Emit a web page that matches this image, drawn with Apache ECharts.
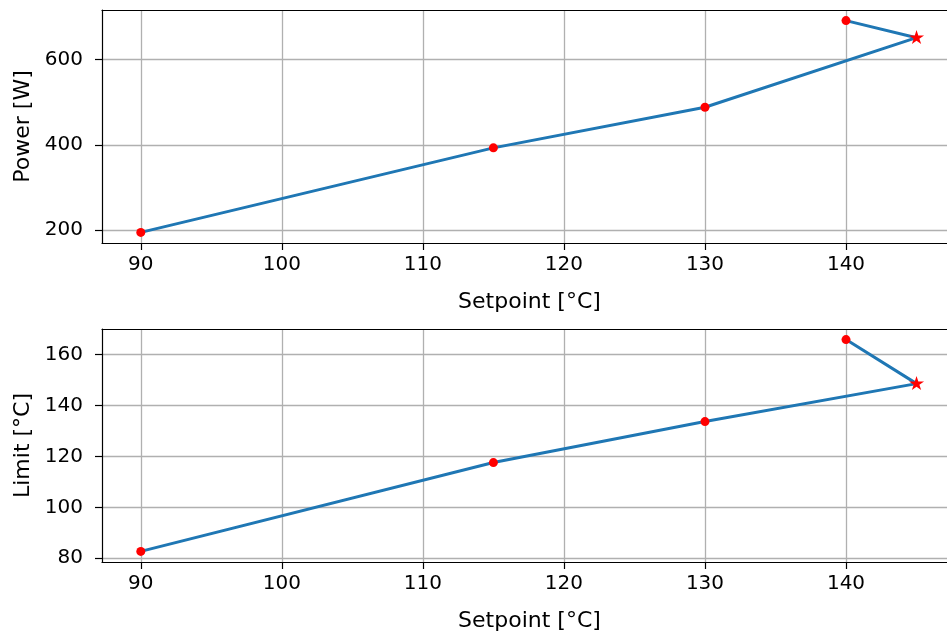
<!DOCTYPE html>
<html>
<head>
<meta charset="utf-8">
<script src="https://cdn.jsdelivr.net/npm/echarts@6/dist/echarts.min.js"></script>
<style>
html,body{margin:0;padding:0;background:#fff;}
#chart{width:947px;height:635px;}
</style>
</head>
<body>
<div id="chart"></div>
<script>
// ---- data ----
const setpoints = [90, 115, 130, 145, 140];
const power = [195, 393, 488, 651, 691];
const limit = [82.7, 117.6, 133.7, 148.6, 165.9];
const starIndex = 3;
const xTicks = [90, 100, 110, 120, 130, 140];
const powerTicks = [200, 400, 600];
const limitTicks = [80, 100, 120, 140, 160];
const xTitle = 'Setpoint [°C]';
const powerTitle = 'Power [W]';
const limitTitle = 'Limit [°C]';
const xVisibleMax = 147.16; // the figure is cropped on the right

// ---- helpers ----
function padRange(arr) {
  const lo = Math.min.apply(null, arr), hi = Math.max.apply(null, arr);
  const m = (hi - lo) * 0.05;
  return [lo - m, hi + m];
}
const xr = [padRange(setpoints)[0], xVisibleMax];
const pr = padRange(power);
const lr = padRange(limit);

const FONT = 'DejaVu Sans';
const STAR = 'path://M100 0 L122.45 69.1 L195.1 69.1 L136.3 111.8 L158.8 180.9 L100 138.2 L41.2 180.9 L63.7 111.8 L4.9 69.1 L77.55 69.1 Z';

function pts(ys) {
  return setpoints.map(function (x, i) {
    const d = { value: [x, ys[i]] };
    if (i === starIndex) { d.symbol = STAR; d.symbolSize = [15, 14]; d.symbolOffset = [0, -0.6]; }
    return d;
  });
}

function xAxisMain(gi) {
  return {
    type: 'value', gridIndex: gi, position: 'bottom',
    min: xr[0], max: xr[1], splitNumber: 5,
    name: xTitle, nameLocation: 'middle', nameGap: 48,
    nameTextStyle: { fontFamily: FONT, fontSize: 22, color: '#000', padding: [0, 0, 0, 10] },
    axisLine: { show: true, onZero: false, lineStyle: { color: '#000', width: 1.2 } },
    axisTick: { show: true, length: 7, inside: false, customValues: xTicks, lineStyle: { color: '#000', width: 1.2 } },
    axisLabel: { show: true, margin: 12, customValues: xTicks,
      fontFamily: FONT, fontSize: 20, color: '#000' },
    splitLine: { show: true, lineStyle: { color: '#b0b0b0', width: 1.3 } }
  };
}
function xAxisTop(gi) {
  return {
    type: 'value', gridIndex: gi, position: 'top',
    min: xr[0], max: xr[1],
    axisLine: { show: true, onZero: false, lineStyle: { color: '#000', width: 1.2 } },
    axisTick: { show: false }, axisLabel: { show: false }, splitLine: { show: false }
  };
}
function yAxis(gi, range, ticks, title, split) {
  return {
    type: 'value', gridIndex: gi, position: 'left',
    min: range[0], max: range[1], splitNumber: split,
    name: title, nameLocation: 'middle', nameGap: 68,
    nameTextStyle: { fontFamily: FONT, fontSize: 22, color: '#000' },
    axisLine: { show: true, onZero: false, lineStyle: { color: '#000', width: 1.2 } },
    axisTick: { show: true, length: 7, inside: false, customValues: ticks, lineStyle: { color: '#000', width: 1.2 } },
    axisLabel: { show: true, margin: 19, customValues: ticks,
      fontFamily: FONT, fontSize: 20, color: '#000' },
    splitLine: { show: true, lineStyle: { color: '#b0b0b0', width: 1.3 } }
  };
}
function series(xi, yi, ys) {
  return {
    type: 'line', xAxisIndex: xi, yAxisIndex: yi,
    data: pts(ys),
    symbol: 'circle', symbolSize: 9,
    showAllSymbol: true,
    lineStyle: { color: '#1f77b4', width: 3 },
    itemStyle: { color: '#ff0000', borderWidth: 0 },
    emphasis: { disabled: true },
    animation: false, z: 3
  };
}

const chart = echarts.init(document.getElementById('chart'), null, { renderer: 'canvas' });
chart.setOption({
  backgroundColor: '#fff',
  animation: false,
  textStyle: { fontFamily: FONT },
  grid: [
    { left: 102, right: 0, top: 10, height: 233, containLabel: false },
    { left: 102, right: 0, top: 329, height: 233, containLabel: false }
  ],
  xAxis: [xAxisMain(0), xAxisTop(0), xAxisMain(1), xAxisTop(1)],
  yAxis: [
    yAxis(0, pr, powerTicks, powerTitle, 3),
    yAxis(1, lr, limitTicks, limitTitle, 4)
  ],
  series: [series(0, 0, power), series(2, 1, limit)]
});
</script>
</body>
</html>
